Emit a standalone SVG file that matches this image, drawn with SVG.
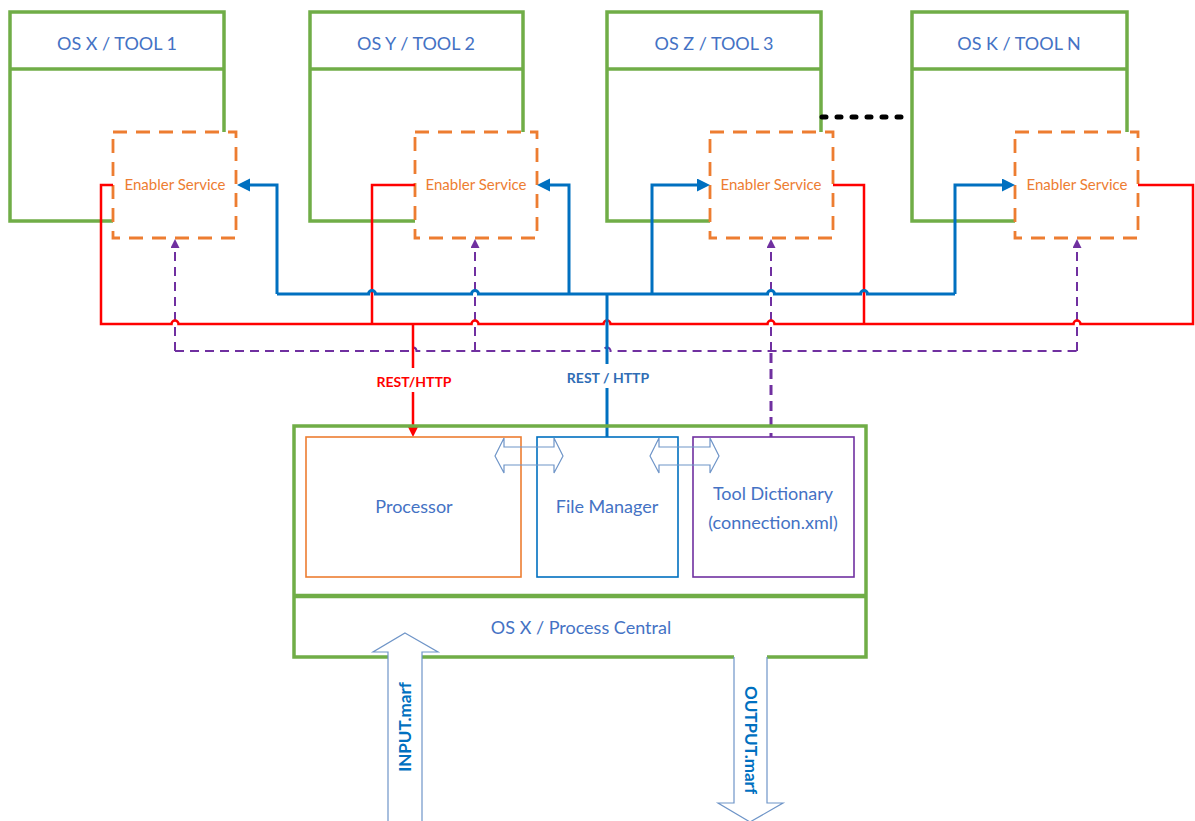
<svg xmlns="http://www.w3.org/2000/svg" width="1195" height="821" viewBox="0 0 1195 821">
<defs>
<style>
.tool{fill:#fff;stroke:#70AD47;stroke-width:3.5}
.gl{fill:none;stroke:#70AD47;stroke-width:3.5}
.en{fill:#fff;stroke:#ED7D31;stroke-width:2.8;stroke-dasharray:14 9}
.t{font-family:Lato,"Liberation Sans",sans-serif;fill:#4472C4;text-anchor:middle}
.h{font-size:18px}
.es{font-size:15px;fill:#ED7D31}
.blue{fill:none;stroke:#0070C0;stroke-width:3}
.red{fill:none;stroke:#FF0000;stroke-width:2.5}
.pur{fill:none;stroke:#7030A0;stroke-width:2;stroke-dasharray:9 6}
.blk{fill:#fff;stroke:#6F95C8;stroke-width:1.2}
.lbl{font-family:Lato,"Liberation Sans",sans-serif;font-weight:bold;font-size:14px;text-anchor:middle}
.io{font-size:17px}
</style>
<marker id="ab" markerUnits="userSpaceOnUse" markerWidth="14" markerHeight="14" refX="7" refY="6.5" orient="auto"><path d="M0,0 L13,6.5 L0,13 z" fill="#0070C0"/></marker>
<marker id="ar" markerUnits="userSpaceOnUse" markerWidth="12" markerHeight="12" refX="4" refY="5" orient="auto"><path d="M0,0 L10,5 L0,10 z" fill="#FF0000"/></marker>
<marker id="ap" markerUnits="userSpaceOnUse" markerWidth="12" markerHeight="12" refX="3" refY="4.5" orient="auto"><path d="M0,0 L9,4.5 L0,9 z" fill="#7030A0"/></marker>
</defs>

<g id="tool1">
<rect class="tool" x="10" y="12" width="214" height="209"/>
<line class="gl" x1="10" y1="69" x2="224" y2="69"/>
<text class="t h" x="117" y="50">OS X / TOOL 1</text>
</g>
<g id="tool2">
<rect class="tool" x="310" y="12" width="213" height="209"/>
<line class="gl" x1="310" y1="69" x2="523" y2="69"/>
<text class="t h" x="416" y="50">OS Y / TOOL 2</text>
</g>
<g id="tool3">
<rect class="tool" x="607" y="12" width="214" height="209"/>
<line class="gl" x1="607" y1="69" x2="821" y2="69"/>
<text class="t h" x="714" y="50">OS Z / TOOL 3</text>
</g>
<g id="tool4">
<rect class="tool" x="912" y="12" width="215" height="209"/>
<line class="gl" x1="912" y1="69" x2="1127" y2="69"/>
<text class="t h" x="1019" y="50">OS K / TOOL N</text>
</g>
<g id="ellipsis">
<line x1="822" y1="117" x2="906" y2="117" stroke="#000" stroke-width="5" stroke-linecap="round" stroke-dasharray="4 11"/>
</g>

<g id="enabler1">
<rect class="en" x="113" y="132" width="123" height="106"/>
<text class="t es" x="175" y="190">Enabler Service</text>
</g>
<g id="enabler2">
<rect class="en" x="415" y="132" width="122" height="106"/>
<text class="t es" x="476" y="190">Enabler Service</text>
</g>
<g id="enabler3">
<rect class="en" x="710" y="132" width="123" height="106"/>
<text class="t es" x="771" y="190">Enabler Service</text>
</g>
<g id="enabler4">
<rect class="en" x="1015" y="132" width="123" height="106"/>
<text class="t es" x="1077" y="190">Enabler Service</text>
</g>

<g id="connectors">
<path class="pur" d="M175,351 L409.5,351 A3.5,3.5 0 0 1 416.5,351 L603.5,351 A3.5,3.5 0 0 1 610.5,351 L1077,351"/>
<path class="pur" d="M175,351 L175,245" marker-end="url(#ap)"/>
<path class="pur" d="M475,351 L475,245" marker-end="url(#ap)"/>
<path class="pur" d="M771,351 L771,245" marker-end="url(#ap)"/>
<path class="pur" d="M1077,351 L1077,245" marker-end="url(#ap)"/>
<path class="pur" d="M771,353 L771,437" style="stroke-width:3;stroke-dasharray:10 6"/>
<path class="red" d="M113,185 L101,185 L101,324 L171.5,324 A3.5,3.5 0 0 1 178.5,324 L471.5,324 A3.5,3.5 0 0 1 478.5,324 L603.5,324 A3.5,3.5 0 0 1 610.5,324 L767.5,324 A3.5,3.5 0 0 1 774.5,324 L1073.5,324 A3.5,3.5 0 0 1 1080.5,324 L1193,324 L1193,185 L1138,185"/>
<path class="red" d="M415,185 L372,185 L372,324"/>
<path class="red" d="M833,185 L864,185 L864,324"/>
<path class="red" d="M413,324 L413,431" marker-end="url(#ar)"/>
<path class="blue" d="M277,294 L368.5,294 A3.5,3.5 0 0 1 375.5,294 L471.5,294 A3.5,3.5 0 0 1 478.5,294 L767.5,294 A3.5,3.5 0 0 1 774.5,294 L860.5,294 A3.5,3.5 0 0 1 867.5,294 L955,294"/>
<path class="blue" d="M277,294 L277,185 L243,185" marker-end="url(#ab)"/>
<path class="blue" d="M569,294 L569,185 L543,185" marker-end="url(#ab)"/>
<path class="blue" d="M652,294 L652,185 L704,185" marker-end="url(#ab)"/>
<path class="blue" d="M955,294 L955,185 L1009,185" marker-end="url(#ab)"/>
<path class="blue" d="M607,294 L607,437"/>
<rect x="372" y="368" width="84" height="24" fill="#fff"/>
<text class="lbl" x="414" y="387" fill="#FF0000">REST/HTTP</text>
<rect x="563" y="364" width="90" height="24" fill="#fff"/>
<text class="lbl" x="608" y="383" fill="#2F6DB5">REST / HTTP</text>
</g>

<g id="process-central">
<path class="gl" d="M388,657 L294,657 L294,426 L866,426 L866,657 L767,657 M734,657 L422,657"/>
<line class="gl" x1="294" y1="596" x2="866" y2="596" style="stroke-width:4.5"/>
<text class="t h" x="581" y="634">OS X / Process Central</text>
</g>
<g id="processor">
<rect x="306" y="437" width="215" height="140" fill="#fff" stroke="#ED7D31" stroke-width="1.6"/>
<text class="t h" x="414" y="513">Processor</text>
</g>
<g id="file-manager">
<rect x="537" y="437" width="141" height="140" fill="#fff" stroke="#0070C0" stroke-width="1.6"/>
<text class="t h" x="607" y="513">File Manager</text>
</g>
<g id="tool-dictionary">
<rect x="693" y="437" width="161" height="140" fill="#fff" stroke="#7030A0" stroke-width="1.6"/>
<text class="t h" x="773" y="500">Tool Dictionary</text>
<text class="t h" x="773" y="529">(connection.xml)</text>
</g>
<g id="exchange-arrows">
<path class="blk" style="fill:none" d="M495,456 L504,438 L504,447 L554,447 L554,438 L563,456 L554,473 L554,465 L504,465 L504,473 Z"/>
<path class="blk" style="fill:none" d="M650,456 L659,438 L659,447 L710,447 L710,438 L719,456 L710,473 L710,465 L659,465 L659,473 Z"/>
</g>
<g id="input">
<path class="blk" d="M405,633 L438,652 L422,652 L422,830 L388,830 L388,652 L373,652 Z"/>
<text class="lbl io" fill="#0070C0" transform="translate(411,727) rotate(-90)">INPUT.marf</text>
</g>
<g id="output">
<path class="blk" d="M734,657 L734,803 L718,803 L750,822 L783,803 L767,803 L767,657"/>
<text class="lbl io" fill="#0070C0" transform="translate(745,740) rotate(90)">OUTPUT.marf</text>
</g>
</svg>
